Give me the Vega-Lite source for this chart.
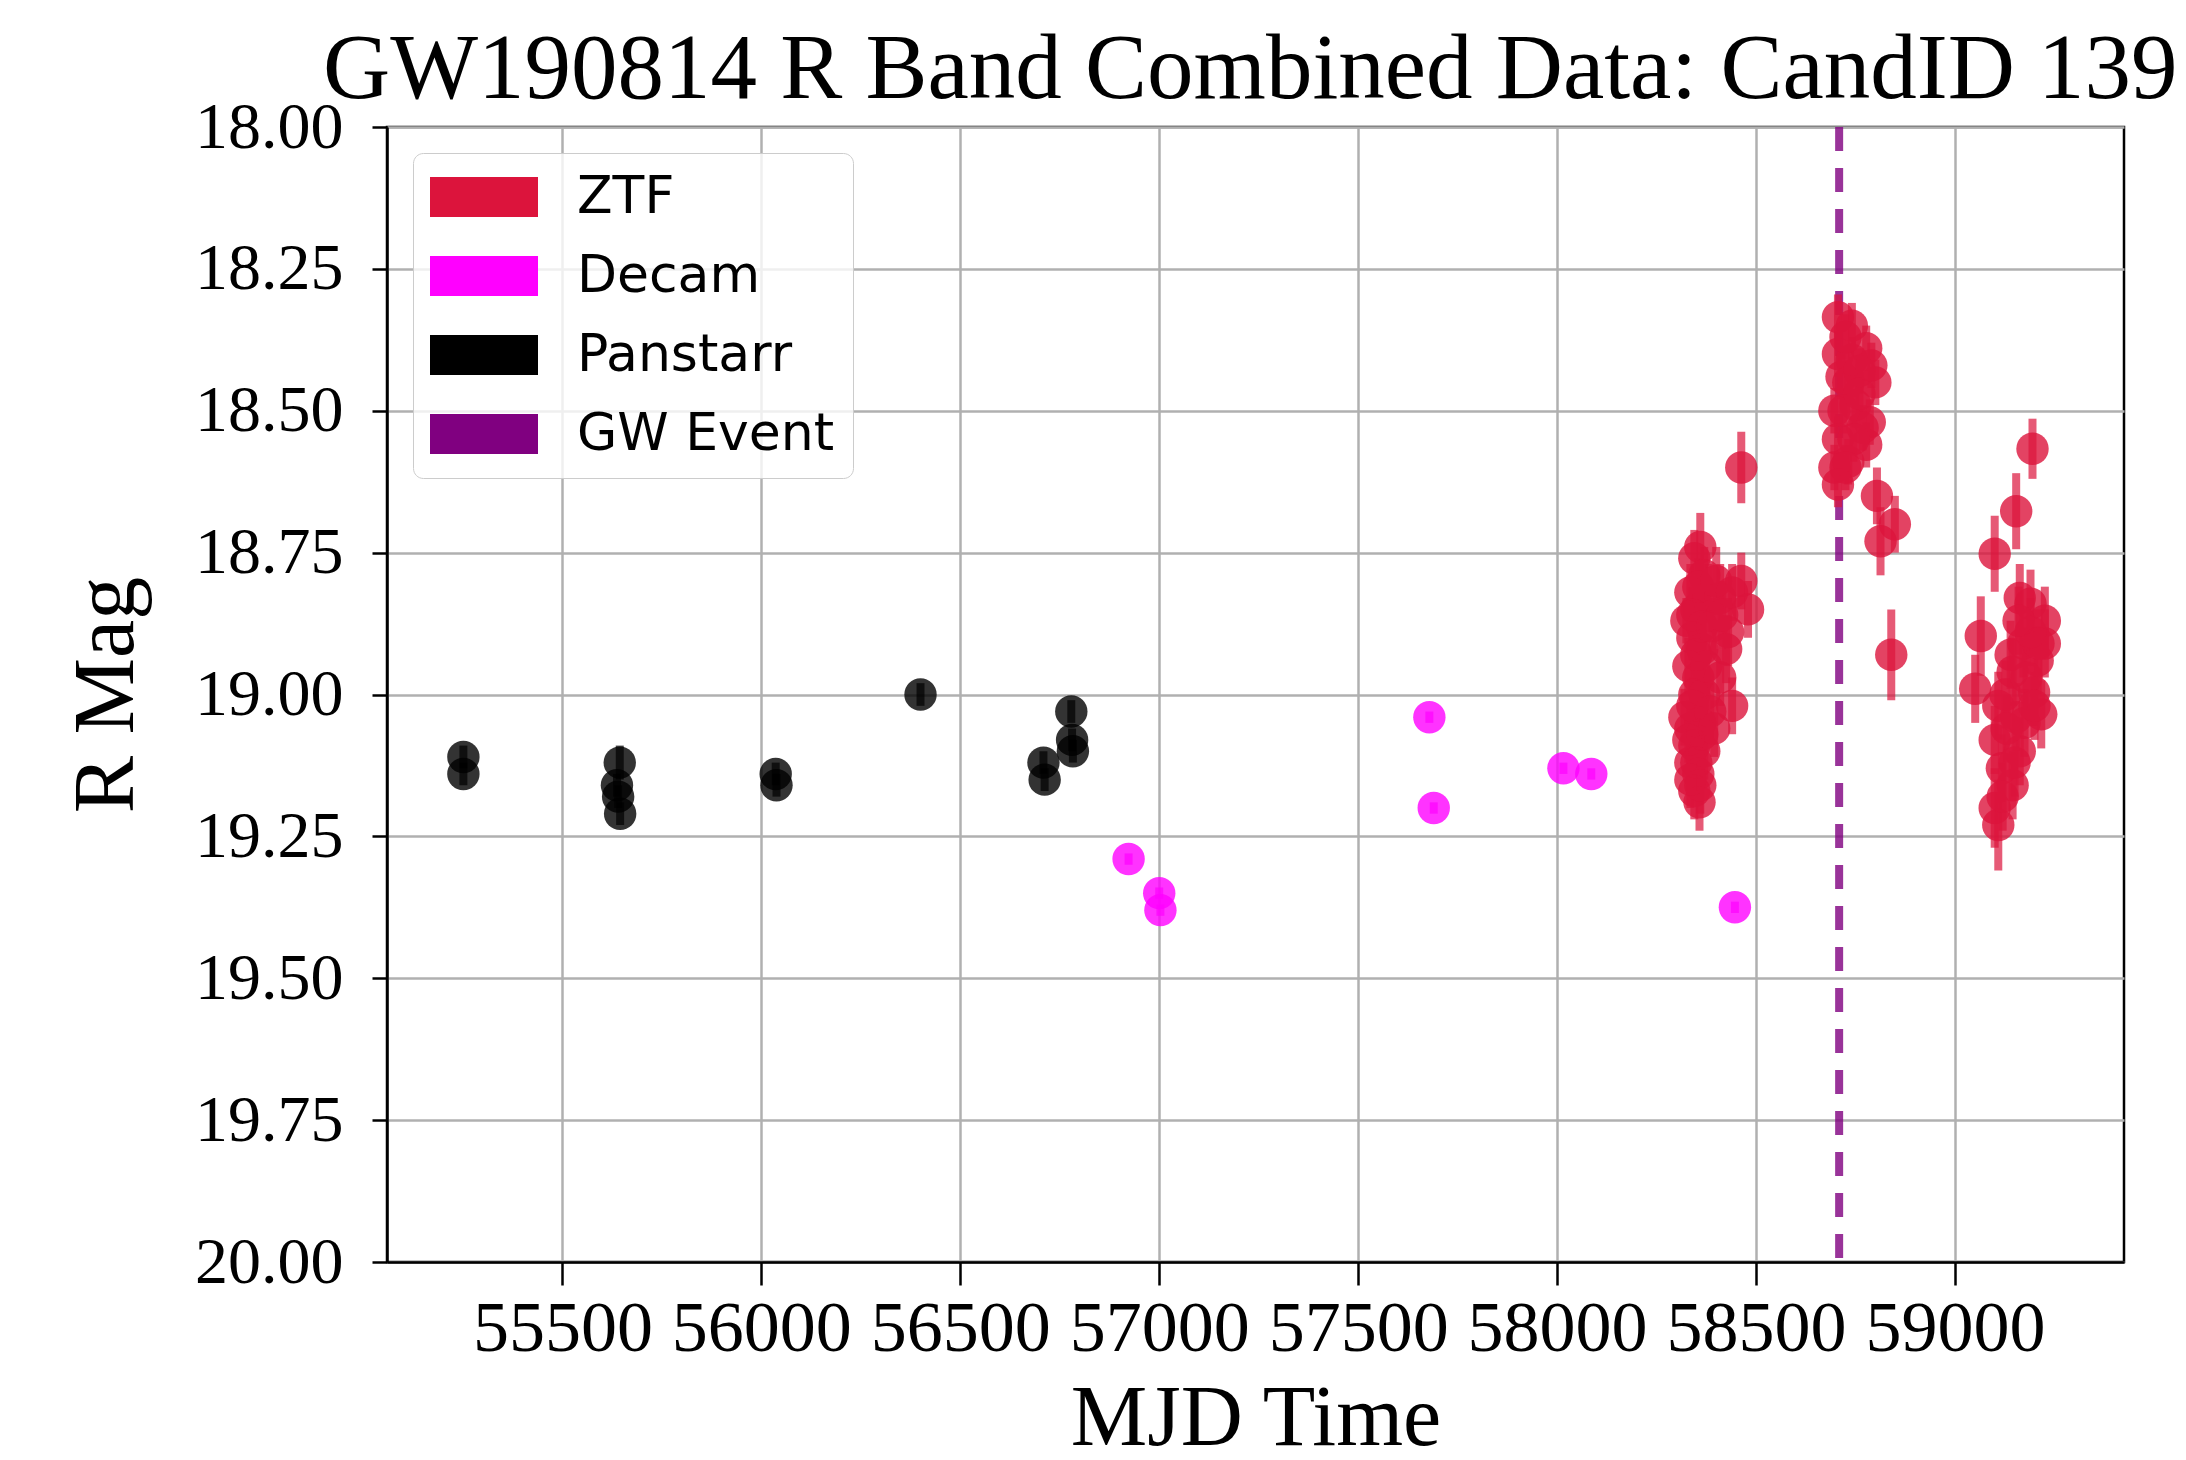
{
  "$schema": "https://vega.github.io/schema/vega-lite/v6.json",
  "autosize": {"type": "none"},
  "width": 1737,
  "height": 1135,
  "padding": {"left": 387, "top": 127, "right": 62, "bottom": 198},
  "background": "white",
  "title": {
    "text": "GW190814 R Band Combined Data: CandID 139",
    "anchor": "start",
    "frame": "group",
    "dx": -64,
    "dy": 97,
    "offset": -20,
    "baseline": "bottom",
    "font": "Liberation Serif",
    "fontSize": 93,
    "fontWeight": "normal",
    "color": "black",
    "limit": 0
  },
  "datasets": {
    "obs": [
      {"survey": "Panstarr", "mjd": 55251, "mag": 19.11, "err": 0.02},
      {"survey": "Panstarr", "mjd": 55251, "mag": 19.14, "err": 0.02},
      {"survey": "Panstarr", "mjd": 55644, "mag": 19.12, "err": 0.03},
      {"survey": "Panstarr", "mjd": 55637, "mag": 19.16, "err": 0.02},
      {"survey": "Panstarr", "mjd": 55640, "mag": 19.18, "err": 0.02},
      {"survey": "Panstarr", "mjd": 55645, "mag": 19.21, "err": 0.02},
      {"survey": "Panstarr", "mjd": 56036, "mag": 19.14, "err": 0.02},
      {"survey": "Panstarr", "mjd": 56038, "mag": 19.16, "err": 0.02},
      {"survey": "Panstarr", "mjd": 56400, "mag": 19.00, "err": 0.02},
      {"survey": "Panstarr", "mjd": 56709, "mag": 19.12, "err": 0.02},
      {"survey": "Panstarr", "mjd": 56712, "mag": 19.15, "err": 0.02},
      {"survey": "Panstarr", "mjd": 56779, "mag": 19.03, "err": 0.02},
      {"survey": "Panstarr", "mjd": 56781, "mag": 19.08, "err": 0.02},
      {"survey": "Panstarr", "mjd": 56783, "mag": 19.10, "err": 0.02},
      {"survey": "Decam", "mjd": 56923, "mag": 19.29, "err": 0.01},
      {"survey": "Decam", "mjd": 57000, "mag": 19.35, "err": 0.01},
      {"survey": "Decam", "mjd": 57003, "mag": 19.38, "err": 0.01},
      {"survey": "Decam", "mjd": 57679, "mag": 19.04, "err": 0.01},
      {"survey": "Decam", "mjd": 57690, "mag": 19.20, "err": 0.01},
      {"survey": "Decam", "mjd": 58016, "mag": 19.13, "err": 0.01},
      {"survey": "Decam", "mjd": 58086, "mag": 19.14, "err": 0.01},
      {"survey": "Decam", "mjd": 58447, "mag": 19.375, "err": 0.01},
      {"survey": "ZTF", "mjd": 58345, "mag": 18.76, "err": 0.05},
      {"survey": "ZTF", "mjd": 58360, "mag": 18.74, "err": 0.06},
      {"survey": "ZTF", "mjd": 58370, "mag": 18.79, "err": 0.05},
      {"survey": "ZTF", "mjd": 58335, "mag": 18.82, "err": 0.05},
      {"survey": "ZTF", "mjd": 58325, "mag": 18.87, "err": 0.04},
      {"survey": "ZTF", "mjd": 58350, "mag": 18.85, "err": 0.05},
      {"survey": "ZTF", "mjd": 58380, "mag": 18.83, "err": 0.06},
      {"survey": "ZTF", "mjd": 58340, "mag": 18.90, "err": 0.04},
      {"survey": "ZTF", "mjd": 58365, "mag": 18.92, "err": 0.05},
      {"survey": "ZTF", "mjd": 58330, "mag": 18.95, "err": 0.05},
      {"survey": "ZTF", "mjd": 58355, "mag": 18.97, "err": 0.05},
      {"survey": "ZTF", "mjd": 58345, "mag": 19.00, "err": 0.05},
      {"survey": "ZTF", "mjd": 58370, "mag": 19.00, "err": 0.04},
      {"survey": "ZTF", "mjd": 58320, "mag": 19.04, "err": 0.05},
      {"survey": "ZTF", "mjd": 58335, "mag": 19.06, "err": 0.05},
      {"survey": "ZTF", "mjd": 58360, "mag": 19.05, "err": 0.05},
      {"survey": "ZTF", "mjd": 58385, "mag": 19.03, "err": 0.05},
      {"survey": "ZTF", "mjd": 58345, "mag": 19.09, "err": 0.04},
      {"survey": "ZTF", "mjd": 58370, "mag": 19.10, "err": 0.05},
      {"survey": "ZTF", "mjd": 58335, "mag": 19.12, "err": 0.05},
      {"survey": "ZTF", "mjd": 58355, "mag": 19.14, "err": 0.05},
      {"survey": "ZTF", "mjd": 58345, "mag": 19.17, "err": 0.05},
      {"survey": "ZTF", "mjd": 58358, "mag": 19.19, "err": 0.05},
      {"survey": "ZTF", "mjd": 58350, "mag": 18.93, "err": 0.05},
      {"survey": "ZTF", "mjd": 58330, "mag": 19.08, "err": 0.04},
      {"survey": "ZTF", "mjd": 58355, "mag": 18.81, "err": 0.05},
      {"survey": "ZTF", "mjd": 58340, "mag": 18.86, "err": 0.05},
      {"survey": "ZTF", "mjd": 58365, "mag": 18.88, "err": 0.05},
      {"survey": "ZTF", "mjd": 58375, "mag": 18.95, "err": 0.05},
      {"survey": "ZTF", "mjd": 58340, "mag": 19.02, "err": 0.05},
      {"survey": "ZTF", "mjd": 58365, "mag": 19.07, "err": 0.05},
      {"survey": "ZTF", "mjd": 58350, "mag": 19.12, "err": 0.05},
      {"survey": "ZTF", "mjd": 58360, "mag": 19.16, "err": 0.05},
      {"survey": "ZTF", "mjd": 58335, "mag": 19.15, "err": 0.05},
      {"survey": "ZTF", "mjd": 58390, "mag": 18.88, "err": 0.05},
      {"survey": "ZTF", "mjd": 58430, "mag": 18.89, "err": 0.06},
      {"survey": "ZTF", "mjd": 58410, "mag": 18.83, "err": 0.06},
      {"survey": "ZTF", "mjd": 58400, "mag": 18.80, "err": 0.06},
      {"survey": "ZTF", "mjd": 58415, "mag": 18.86, "err": 0.06},
      {"survey": "ZTF", "mjd": 58440, "mag": 18.82, "err": 0.05},
      {"survey": "ZTF", "mjd": 58463, "mag": 18.80, "err": 0.05},
      {"survey": "ZTF", "mjd": 58480, "mag": 18.85, "err": 0.05},
      {"survey": "ZTF", "mjd": 58425, "mag": 18.92, "err": 0.06},
      {"survey": "ZTF", "mjd": 58410, "mag": 18.97, "err": 0.05},
      {"survey": "ZTF", "mjd": 58440, "mag": 19.02, "err": 0.05},
      {"survey": "ZTF", "mjd": 58395, "mag": 19.06, "err": 0.05},
      {"survey": "ZTF", "mjd": 58463, "mag": 18.60, "err": 0.063},
      {"survey": "ZTF", "mjd": 58706, "mag": 18.335, "err": 0.04},
      {"survey": "ZTF", "mjd": 58741, "mag": 18.35, "err": 0.04},
      {"survey": "ZTF", "mjd": 58777, "mag": 18.39, "err": 0.04},
      {"survey": "ZTF", "mjd": 58706, "mag": 18.40, "err": 0.04},
      {"survey": "ZTF", "mjd": 58715, "mag": 18.44, "err": 0.04},
      {"survey": "ZTF", "mjd": 58800, "mag": 18.45, "err": 0.04},
      {"survey": "ZTF", "mjd": 58697, "mag": 18.50, "err": 0.04},
      {"survey": "ZTF", "mjd": 58750, "mag": 18.49, "err": 0.04},
      {"survey": "ZTF", "mjd": 58786, "mag": 18.52, "err": 0.04},
      {"survey": "ZTF", "mjd": 58706, "mag": 18.55, "err": 0.04},
      {"survey": "ZTF", "mjd": 58777, "mag": 18.56, "err": 0.04},
      {"survey": "ZTF", "mjd": 58697, "mag": 18.60, "err": 0.04},
      {"survey": "ZTF", "mjd": 58732, "mag": 18.59, "err": 0.04},
      {"survey": "ZTF", "mjd": 58706, "mag": 18.63, "err": 0.04},
      {"survey": "ZTF", "mjd": 58768, "mag": 18.53, "err": 0.04},
      {"survey": "ZTF", "mjd": 58732, "mag": 18.45, "err": 0.04},
      {"survey": "ZTF", "mjd": 58741, "mag": 18.41, "err": 0.04},
      {"survey": "ZTF", "mjd": 58725, "mag": 18.37, "err": 0.04},
      {"survey": "ZTF", "mjd": 58760, "mag": 18.43, "err": 0.04},
      {"survey": "ZTF", "mjd": 58720, "mag": 18.50, "err": 0.04},
      {"survey": "ZTF", "mjd": 58745, "mag": 18.55, "err": 0.04},
      {"survey": "ZTF", "mjd": 58725, "mag": 18.60, "err": 0.04},
      {"survey": "ZTF", "mjd": 58760, "mag": 18.47, "err": 0.04},
      {"survey": "ZTF", "mjd": 58790, "mag": 18.42, "err": 0.04},
      {"survey": "ZTF", "mjd": 58804, "mag": 18.65, "err": 0.05},
      {"survey": "ZTF", "mjd": 58849, "mag": 18.70, "err": 0.05},
      {"survey": "ZTF", "mjd": 58813, "mag": 18.73, "err": 0.06},
      {"survey": "ZTF", "mjd": 58840, "mag": 18.93, "err": 0.08},
      {"survey": "ZTF", "mjd": 59195, "mag": 18.567, "err": 0.053},
      {"survey": "ZTF", "mjd": 59154, "mag": 18.677, "err": 0.067},
      {"survey": "ZTF", "mjd": 59100, "mag": 18.752, "err": 0.067},
      {"survey": "ZTF", "mjd": 59065, "mag": 18.897, "err": 0.07},
      {"survey": "ZTF", "mjd": 59051, "mag": 18.99, "err": 0.06},
      {"survey": "ZTF", "mjd": 59163, "mag": 18.83, "err": 0.06},
      {"survey": "ZTF", "mjd": 59190, "mag": 18.84, "err": 0.06},
      {"survey": "ZTF", "mjd": 59226, "mag": 18.87, "err": 0.06},
      {"survey": "ZTF", "mjd": 59172, "mag": 18.91, "err": 0.06},
      {"survey": "ZTF", "mjd": 59208, "mag": 18.94, "err": 0.06},
      {"survey": "ZTF", "mjd": 59145, "mag": 18.96, "err": 0.06},
      {"survey": "ZTF", "mjd": 59199, "mag": 18.996, "err": 0.06},
      {"survey": "ZTF", "mjd": 59109, "mag": 19.02, "err": 0.06},
      {"survey": "ZTF", "mjd": 59154, "mag": 19.04, "err": 0.06},
      {"survey": "ZTF", "mjd": 59217, "mag": 19.035, "err": 0.06},
      {"survey": "ZTF", "mjd": 59100, "mag": 19.08, "err": 0.06},
      {"survey": "ZTF", "mjd": 59163, "mag": 19.10, "err": 0.06},
      {"survey": "ZTF", "mjd": 59118, "mag": 19.13, "err": 0.06},
      {"survey": "ZTF", "mjd": 59145, "mag": 19.16, "err": 0.06},
      {"survey": "ZTF", "mjd": 59100, "mag": 19.20, "err": 0.07},
      {"survey": "ZTF", "mjd": 59109, "mag": 19.23, "err": 0.08},
      {"survey": "ZTF", "mjd": 59127, "mag": 19.00, "err": 0.06},
      {"survey": "ZTF", "mjd": 59180, "mag": 18.97, "err": 0.06},
      {"survey": "ZTF", "mjd": 59226, "mag": 18.91, "err": 0.06},
      {"survey": "ZTF", "mjd": 59140, "mag": 18.93, "err": 0.06},
      {"survey": "ZTF", "mjd": 59175, "mag": 19.05, "err": 0.06},
      {"survey": "ZTF", "mjd": 59130, "mag": 19.06, "err": 0.06},
      {"survey": "ZTF", "mjd": 59200, "mag": 19.02, "err": 0.06},
      {"survey": "ZTF", "mjd": 59150, "mag": 19.12, "err": 0.06},
      {"survey": "ZTF", "mjd": 59120, "mag": 19.18, "err": 0.06},
      {"survey": "ZTF", "mjd": 59190, "mag": 18.89, "err": 0.06},
      {"survey": "ZTF", "mjd": 59160, "mag": 18.87, "err": 0.06},
      {"survey": "ZTF", "mjd": 59210, "mag": 18.91, "err": 0.06}
    ],
    "gw": [
      {"survey": "GW Event", "mjd": 58709}
    ]
  },
  "layer": [
    {
      "data": {"name": "gw"},
      "mark": {"type": "rule", "strokeWidth": 8, "strokeDash": [24, 17], "opacity": 0.8},
      "encoding": {
        "x": {"field": "mjd", "type": "quantitative"}
      }
    },
    {
      "data": {"name": "obs"},
      "mark": {"type": "errorbar", "thickness": 8, "opacity": 0.7},
      "encoding": {
        "y": {
          "field": "mag", "type": "quantitative",
          "scale": {"domain": [18, 20], "reverse": true, "nice": false, "zero": false},
          "axis": {
            "title": "R Mag",
            "values": [18, 18.25, 18.5, 18.75, 19, 19.25, 19.5, 19.75, 20],
            "format": ".2f",
            "labelFontSize": 66,
            "tickSize": 15,
            "labelPadding": 29,
            "titleFontSize": 86,
            "titlePadding": 44
          }
        },
        "yError": {"field": "err"}
      }
    },
    {
      "data": {"name": "obs"},
      "mark": {"type": "circle", "size": 1050, "opacity": 0.8},
      "encoding": {
        "y": {"field": "mag", "type": "quantitative"}
      }
    }
  ],
  "encoding": {
    "x": {
      "field": "mjd", "type": "quantitative",
      "scale": {"domain": [55059, 59425], "nice": false, "zero": false},
      "axis": {
        "title": "MJD Time",
        "values": [55500, 56000, 56500, 57000, 57500, 58000, 58500, 59000],
        "format": "d",
        "labelFontSize": 72,
        "labelLimit": 0,
        "tickSize": 23,
        "labelPadding": 8,
        "titleFontSize": 86,
        "titlePadding": 12
      }
    },
    "color": {
      "field": "survey", "type": "nominal",
      "scale": {
        "domain": ["ZTF", "Decam", "Panstarr", "GW Event"],
        "range": ["#DC143C", "#FF00FF", "#000000", "#800080"]
      },
      "legend": {
        "title": null,
        "orient": "top-left",
        "offset": 26,
        "padding": 18,
        "rowPadding": 27,
        "labelOffset": 67,
        "symbolOffset": 27,
        "labelLimit": 0,
        "labelFont": "DejaVu Sans",
        "labelFontSize": 52,
        "labelColor": "black",
        "symbolType": "M-2.7,-1H2.7V1H-2.7Z",
        "symbolSize": 1600,
        "symbolStrokeWidth": 0,
        "symbolOpacity": 1,
        "strokeColor": "#cccccc",
        "fillColor": "rgba(255,255,255,0.8)",
        "cornerRadius": 10,
        "encode": {
          "symbols": {
            "update": {
              "fill": {"scale": "color", "field": "value"},
              "stroke": {"value": "transparent"},
              "opacity": {"value": 1},
              "shape": {"value": "M-2.7,-1H2.7V1H-2.7Z"},
              "size": {"value": 1600}
            }
          }
        }
      }
    }
  },
  "config": {
    "font": "Liberation Serif",
    "view": {"stroke": "black", "strokeWidth": 2.5},
    "axis": {
      "labelFont": "Liberation Serif",
      "titleFont": "Liberation Serif",
      "labelColor": "black",
      "titleColor": "black",
      "titleFontWeight": "normal",
      "domainColor": "black",
      "domainWidth": 2.5,
      "tickColor": "black",
      "tickWidth": 2.5,
      "gridColor": "#b0b0b0",
      "gridWidth": 2.5,
      "gridOpacity": 1
    }
  }
}
